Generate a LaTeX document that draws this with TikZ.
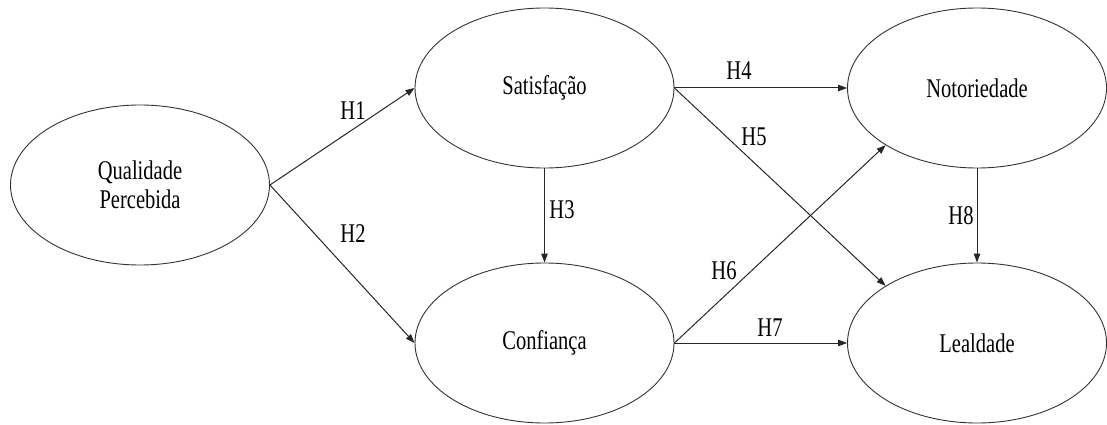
\documentclass[tikz,border=0pt]{standalone}
\usepackage{fontspec}
\setmainfont{Liberation Serif}[FakeStretch=0.76]
\usetikzlibrary{shapes.geometric,arrows.meta}
\begin{document}
\begin{tikzpicture}[x=1pt,y=-1pt,
  construct/.style={draw=black!80,ellipse,line width=0.9pt,inner sep=0pt,
    minimum width=259pt,minimum height=160pt,
    font=\fontsize{27}{29}\selectfont,align=center},
  path/.style={draw=black!85,line width=1pt,-{Triangle[length=9pt,width=6.5pt]}},
  hlabel/.style={font=\fontsize{27}{29}\selectfont,inner sep=0pt}]
\useasboundingbox (0,0) rectangle (1107,425);
\node[construct] (Q) at (140,185) {Qualidade\\Percebida};
\node[construct] (S) at (544.5,88) {Satisfação};
\node[construct] (C) at (544.5,343) {Confiança};
\node[construct] (N) at (977,88) {Notoriedade};
\node[construct] (L) at (977,343) {Lealdade};
\draw[path] (Q.east) -- (S.west);
\draw[path] (Q.east) -- (C.west);
\draw[path] (S.south) -- (C.north);
\draw[path] (S.east) -- (N.west);
\draw[path] (S.east) -- (L.148);
\draw[path] (C.east) -- (N.212);
\draw[path] (C.east) -- (L.west);
\draw[path] (N.south) -- (L.north);
\node[hlabel] (h1) at (353,111) {H1};
\node[hlabel] (h2) at (353,234) {H2};
\node[hlabel] (h3) at (562,210) {H3};
\node[hlabel] (h4) at (739,71) {H4};
\node[hlabel] (h5) at (754,137) {H5};
\node[hlabel] (h6) at (724,271) {H6};
\node[hlabel] (h7) at (770,328) {H7};
\node[hlabel] (h8) at (961,216) {H8};
\end{tikzpicture}
\end{document}
